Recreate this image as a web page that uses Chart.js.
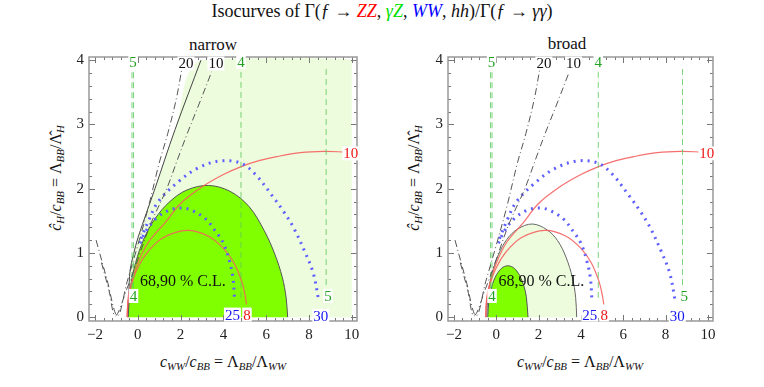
<!DOCTYPE html>
<html>
<head>
<meta charset="utf-8">
<script src="https://cdn.jsdelivr.net/npm/chart.js@4.4.1/dist/chart.umd.min.js"></script>
<style>
  body { margin: 0; background: #fff; width: 764px; height: 387px; position: relative; overflow: hidden;
         font-family: 'Liberation Serif', 'DejaVu Serif', serif; color: #111; }
  .txt { position: absolute; white-space: nowrap; }
  sub { font-size: 68%; vertical-align: -0.28em; line-height: 0; font-style: italic; }
  canvas { position: absolute; top: 0; }
</style>
</head>
<body>
<div class="txt" style="left:0;top:1px;width:764px;text-align:center;font-size:18px;line-height:20px">Isocurves of Γ(<i>ƒ</i> → <i style="color:#f00">ZZ</i>, <i style="color:#00e000">γZ</i>, <i style="color:#00f">WW</i>, <i>hh</i>)/Γ(<i>ƒ</i> → <i>γγ</i>)</div>
<div class="txt" style="left:213px;top:45px;transform:translate(-50%,-50%);font-size:17px">narrow</div>
<div class="txt" style="left:567px;top:44px;transform:translate(-50%,-50%);font-size:17px">broad</div>
<div class="txt" style="left:223px;top:362px;transform:translate(-50%,-50%);font-size:16px"><i>c</i><sub>WW</sub>/<i>c</i><sub>BB</sub> = Λ<sub>BB</sub>/Λ<sub>WW</sub></div>
<div class="txt" style="left:580px;top:362px;transform:translate(-50%,-50%);font-size:16px"><i>c</i><sub>WW</sub>/<i>c</i><sub>BB</sub> = Λ<sub>BB</sub>/Λ<sub>WW</sub></div>
<div class="txt" style="left:56px;top:178px;transform:translate(-50%,-50%) rotate(-90deg);font-size:16px"><i>ĉ</i><sub>H</sub>/<i>c</i><sub>BB</sub> = Λ<sub>BB</sub>/Λ̂<sub>H</sub></div>
<div class="txt" style="left:414px;top:178px;transform:translate(-50%,-50%) rotate(-90deg);font-size:16px"><i>ĉ</i><sub>H</sub>/<i>c</i><sub>BB</sub> = Λ<sub>BB</sub>/Λ̂<sub>H</sub></div>

<canvas id="narrow" width="382" height="387" style="left:0"></canvas>
<canvas id="broad" width="382" height="387" style="left:382px"></canvas>

<script>
// axis ticks
const X_TICKS = [-2, 0, 2, 4, 6, 8, 10];
const Y_TICKS = [0, 1, 2, 3, 4];

// confidence regions (68% / 90% C.L.)
const narrow68 = [[-0.45,0],[-0.35,0.45],[-0.1,0.85],[0.3,1.23],[0.8,1.53],[1.5,1.8],[2.3,1.98],[3.3,2.05],[4.3,1.96],[5.2,1.72],[5.9,1.35],[6.4,0.98],[6.75,0.62],[6.93,0.3],[7.0,0]];
const narrow90Edge = [[-0.45,0],[-0.42,0.35],[-0.36,0.73],[-0.2,0.98],[0.02,1.25],[0.8,2.0],[1.74,2.92],[2.95,4.0]];
const narrow90Fill = narrow90Edge.concat([[10,4],[10,0]]);
const broad90 = [[-0.45,0],[-0.38,0.37],[-0.2,0.68],[0.1,0.97],[0.5,1.21],[1.0,1.37],[1.7,1.45],[2.4,1.36],[2.9,1.19],[3.3,0.93],[3.6,0.61],[3.75,0.31],[3.8,0]];
const broad68 = [[-0.4,0],[-0.35,0.26],[-0.25,0.43],[-0.05,0.62],[0.25,0.76],[0.55,0.8],[0.85,0.76],[1.1,0.65],[1.3,0.49],[1.42,0.32],[1.5,0]];

// ZZ isocurves (8, 10)
const zz8 = [[-0.5,0],[-0.45,0.25],[-0.3,0.5],[0,0.77],[0.5,1.03],[1.2,1.24],[2.3,1.35],[3.3,1.26],[4.0,1.07],[4.5,0.84],[4.85,0.56],[5.0,0.36],[5.08,0.2]];
const zz10 = [[-0.5,0],[-0.45,0.3],[-0.3,0.53],[0,0.84],[0.5,1.17],[1.3,1.48],[2.0,1.77],[3.06,2.04],[4.0,2.22],[4.8,2.34],[5.7,2.44],[6.5,2.5],[7.6,2.56],[8.7,2.58],[9.7,2.57]];
// WW isocurves (25, 30)
const ww25 = [[0.1,1.15],[0.4,1.35],[0.9,1.55],[1.5,1.67],[2.1,1.7],[2.6,1.65],[3.2,1.52],[3.6,1.35],[4.0,1.15],[4.3,0.85],[4.45,0.6],[4.52,0.27]];
const ww30 = [[0.15,1.22],[0.5,1.5],[0.96,1.8],[1.9,2.11],[2.8,2.32],[3.8,2.43],[4.8,2.4],[5.5,2.22],[6.3,1.88],[6.8,1.65],[7.25,1.41],[7.8,1.02],[8.2,0.68],[8.45,0.26]];
// gamma Z isocurves (4, 5)
const gz4a = [[-0.27,0.45],[-0.27,3.9]];
const gz4b = [[4.82,0.3],[4.82,3.9]];
const gz5a = [[-0.2,0.45],[-0.2,3.9]];
const gz5b = [[8.8,0.5],[8.8,3.9]];
// hh isocurves (10, 20)
const hh20 = [[-1.95,1.2],[-1.45,0.6],[-0.95,0.02],[-0.5,0.55],[0,1.12],[0.5,1.72],[1.0,2.4],[1.4,2.86],[1.8,3.4],[2.05,3.85]];
const hh10 = [[-1.7,0.85],[-1.35,0.42],[-1.05,0.02],[-0.5,0.45],[0,0.9],[0.6,1.45],[1.35,2.0],[1.85,2.45],[2.3,2.85],[2.9,3.35],[3.45,3.82]];

// curve labels: text, x, y, colour
const curveLabels = [
  ['5', -0.22, 3.97, '#22a022'], ['4', 4.82, 3.97, '#22a022'],
  ['5', 8.88, 0.33, '#22a022'], ['4', -0.2, 0.33, '#22a022'],
  ['20', 2.25, 3.95, '#111'], ['10', 3.65, 3.95, '#111'],
  ['25', 4.42, 0.04, '#1515ee'], ['8', 5.1, 0.04, '#ee1515'],
  ['30', 8.55, 0.02, '#1515ee'], ['10', 9.95, 2.55, '#ee1515']
];

const SERIF = "'Liberation Serif', 'DejaVu Serif', serif";
const LIGHT = 'rgb(238,252,222)';
const BRIGHT = 'rgb(128,255,0)';

const pts = a => a.map(([x, y]) => ({ x, y }));

function fillSet(data, color, border) {
  return { data: pts(data), showLine: true, pointRadius: 0, fill: 'origin', backgroundColor: color,
           borderColor: border || 'transparent', borderWidth: border ? 1 : 0, tension: 0.35 };
}
function lineSet(data, color, width, dash, tension) {
  return { data: pts(data), showLine: true, pointRadius: 0, fill: false, borderColor: color,
           borderWidth: width, borderDash: dash || [], tension: tension ?? 0.35 };
}

function commonSets() {
  return [
    lineSet(zz8, 'rgba(245,95,95,0.9)', 1.2),
    lineSet(zz10, 'rgba(245,95,95,0.9)', 1.2),
    lineSet(ww25, 'rgb(95,95,255)', 3, [2, 5]),
    lineSet(ww30, 'rgb(95,95,255)', 3, [2, 5]),
    lineSet(gz4a, 'rgba(90,200,90,0.8)', 1, [6, 4], 0),
    lineSet(gz5a, 'rgba(90,200,90,0.8)', 1, [6, 4], 0),
    lineSet(gz4b, 'rgba(90,200,90,0.8)', 1, [6, 4], 0),
    lineSet(gz5b, 'rgba(90,200,90,0.8)', 1, [6, 4], 0),
    lineSet(hh20, '#555', 1, [7, 3, 1, 3]),
    lineSet(hh10, '#555', 1, [7, 3, 1, 3])
  ];
}

// first dataset in the list is painted first (at the bottom)
const stackOrder = sets => sets.map((d, i) => ({ ...d, order: sets.length - i }));

// frame, inside ticks (major + minor) and curve labels
const frameTicks = {
  id: 'frameTicks',
  afterDatasetsDraw(chart) {
    const { ctx, chartArea: a, scales: { x, y } } = chart;
    ctx.save();
    ctx.strokeStyle = '#777';
    ctx.lineWidth = 1;
    ctx.beginPath();
    for (let v = -2; v <= 10.01; v += 0.4) {
      const px = Math.round(x.getPixelForValue(v)) + 0.5;
      const major = Math.abs(v / 2 - Math.round(v / 2)) < 1e-6;
      const len = major ? 6 : 3;
      ctx.moveTo(px, a.bottom); ctx.lineTo(px, a.bottom - len);
      ctx.moveTo(px, a.top); ctx.lineTo(px, a.top + len);
    }
    for (let v = 0; v <= 4.01; v += 0.2) {
      const py = Math.round(y.getPixelForValue(v)) + 0.5;
      const major = Math.abs(v - Math.round(v)) < 1e-6;
      const len = major ? 6 : 3;
      ctx.moveTo(a.left, py); ctx.lineTo(a.left + len, py);
      ctx.moveTo(a.right, py); ctx.lineTo(a.right - len, py);
    }
    ctx.stroke();
    ctx.strokeStyle = '#999';
    ctx.lineWidth = 1.5;
    ctx.strokeRect(a.left, a.top, a.width, a.height);

    ctx.font = '15px ' + SERIF;
    ctx.textAlign = 'center';
    ctx.textBaseline = 'middle';
    curveLabels.forEach(([t, vx, vy, c]) => {
      const px = x.getPixelForValue(vx), py = y.getPixelForValue(vy);
      const w = ctx.measureText(t).width;
      ctx.fillStyle = '#fff';
      ctx.fillRect(px - w / 2 - 1, py - 7, w + 2, 14);
      ctx.fillStyle = c;
      ctx.fillText(t, px, py + 1);
    });
    ctx.font = '16px ' + SERIF;
    ctx.textAlign = 'left';
    ctx.fillStyle = '#111';
    ctx.fillText('68,90 % C.L.', x.getPixelForValue(0.1), y.getPixelForValue(0.55));
    ctx.restore();
  }
};

function makeChart(id, datasets, padRight, padTop, yWidth) {
  return new Chart(document.getElementById(id), {
    type: 'scatter',
    data: { datasets: stackOrder(datasets) },
    options: {
      responsive: false,
      animation: false,
      devicePixelRatio: 1,
      layout: { padding: { left: 0, right: padRight, top: padTop, bottom: 0 } },
      plugins: { legend: { display: false }, tooltip: { enabled: false } },
      scales: {
        x: {
          type: 'linear', min: -2.28, max: 10.24,
          grid: { display: false, drawTicks: false }, border: { display: false },
          afterBuildTicks: s => { s.ticks = X_TICKS.map(v => ({ value: v })); },
          afterFit: s => { s.height = 66; },
          ticks: { font: { family: SERIF, size: 15 }, color: '#222', padding: 5, maxRotation: 0,
                   callback: v => (v < 0 ? '\u2212' + (-v) : v) }
        },
        y: {
          type: 'linear', min: -0.06, max: 4.05,
          grid: { display: false, drawTicks: false }, border: { display: false },
          afterBuildTicks: s => { s.ticks = Y_TICKS.map(v => ({ value: v })); },
          afterFit: s => { s.width = yWidth; },
          ticks: { font: { family: SERIF, size: 15 }, color: '#222', padding: 5 }
        }
      }
    },
    plugins: [frameTicks]
  });
}

makeChart('narrow', [
  fillSet(narrow90Fill, LIGHT),
  lineSet(narrow90Edge, '#444', 1),
  fillSet(narrow68, BRIGHT, '#555'),
  ...commonSets()
], 25, 57, 89);

makeChart('broad', [
  fillSet(broad90, LIGHT, '#666'),
  fillSet(broad68, BRIGHT, '#555'),
  ...commonSets()
], 51, 57, 66);
</script>
</body>
</html>
